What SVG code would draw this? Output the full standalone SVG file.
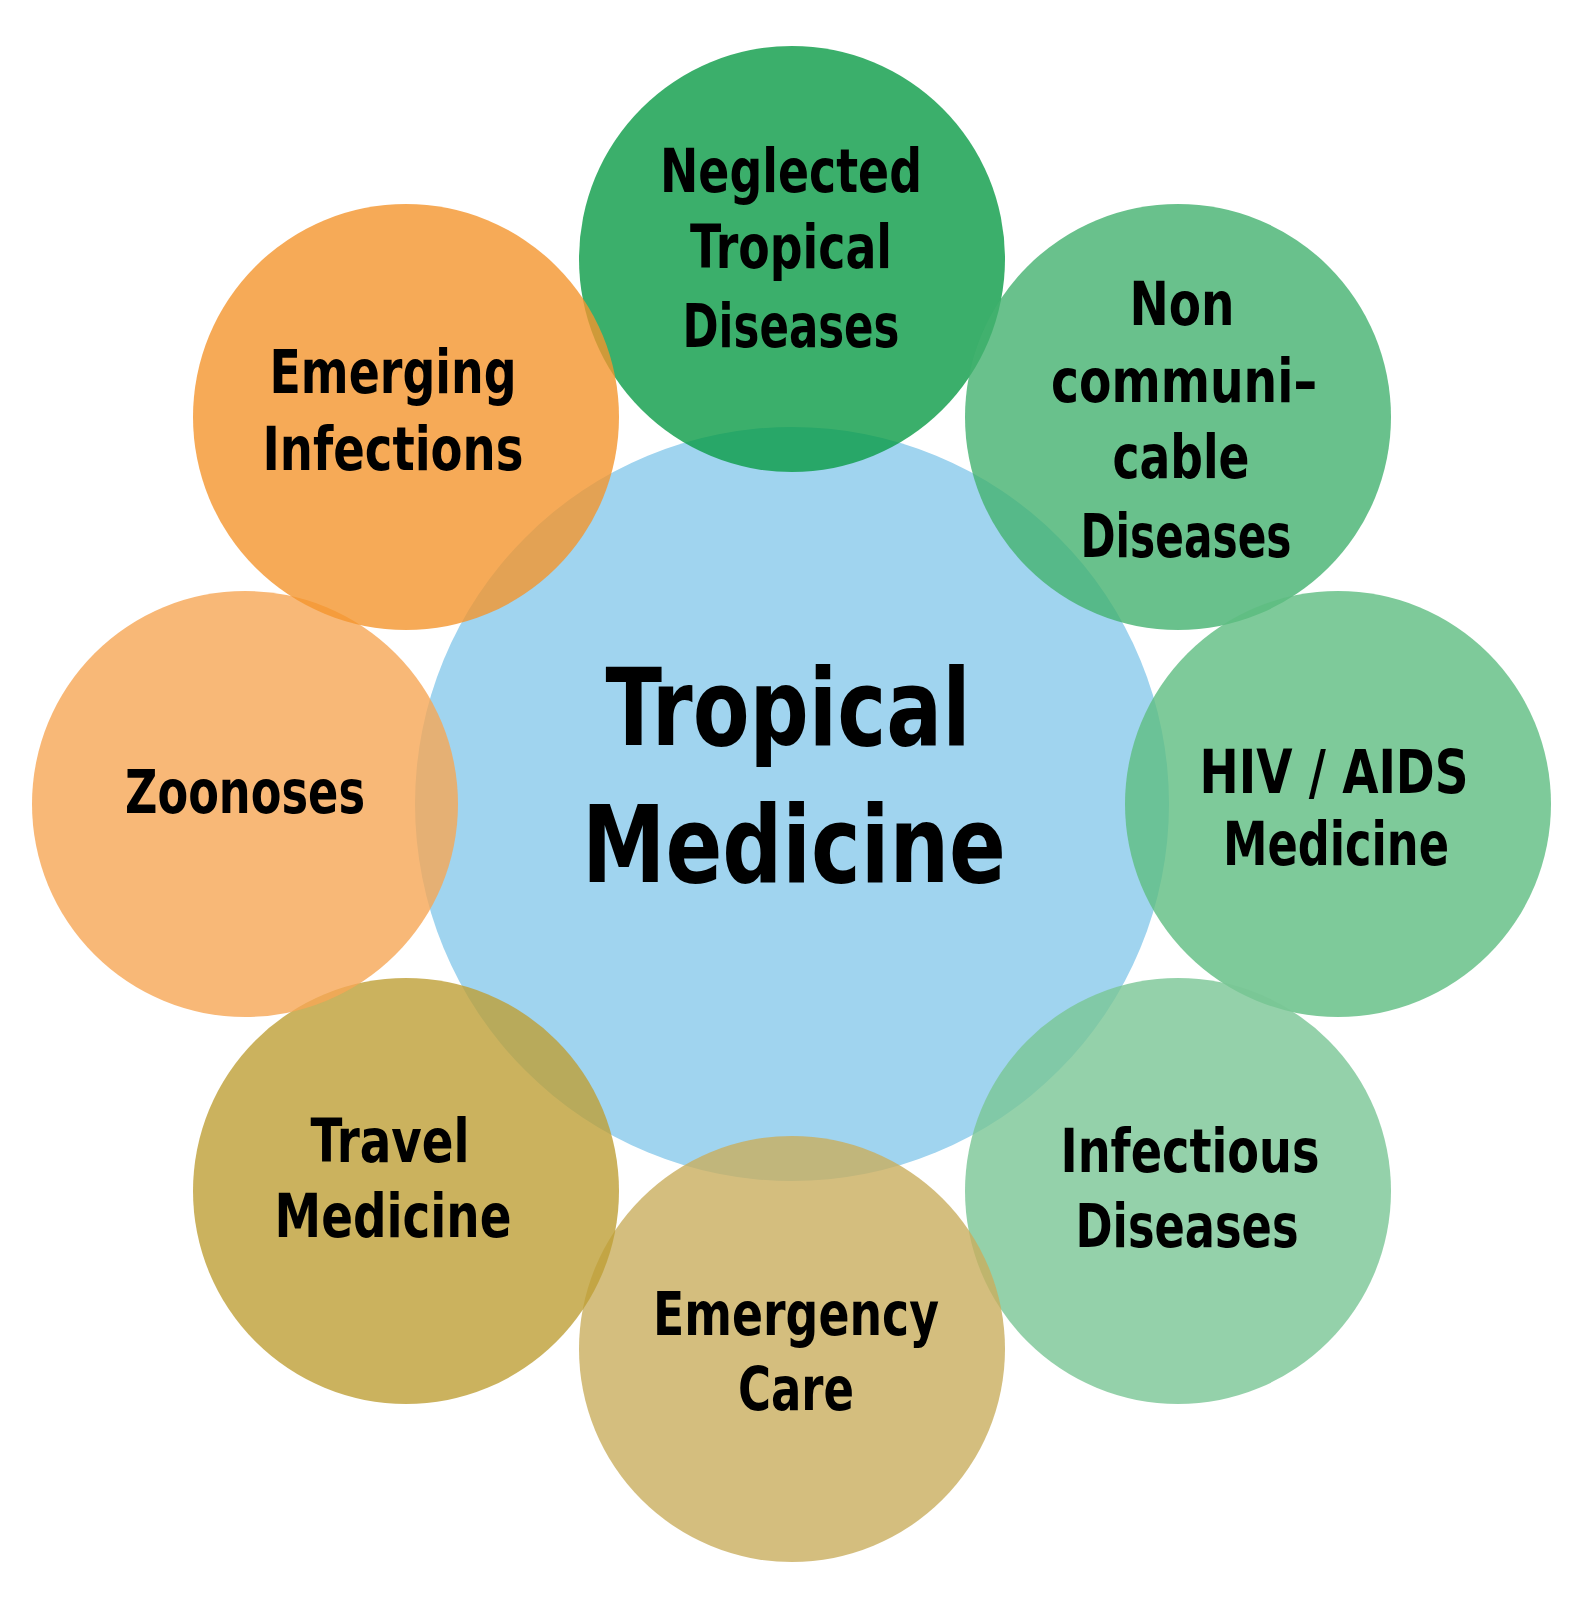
<svg xmlns="http://www.w3.org/2000/svg" width="1594" height="1603" viewBox="0 0 1594 1603">
<style>
  .sat { fill-opacity: 0.8; }
  text { font-family: "DejaVu Sans Condensed", "DejaVu Sans", sans-serif; font-weight: bold; fill: #000; text-anchor: middle; font-stretch: condensed; }
  .s { font-size: 60px; }
  .c { font-size: 107px; }
</style>
<rect width="1594" height="1603" fill="#ffffff"/>
<g id="center">
  <circle cx="792" cy="804" r="377" fill="#A0D4EF"/>
</g>
<g id="connectors"></g>
<g id="neglected">
  <circle class="sat" cx="792" cy="259" r="213" fill="#0A9B46"/>
</g>
<g id="noncommunicable">
  <circle class="sat" cx="1178" cy="417" r="213" fill="#44B26F"/>
</g>
<g id="hiv">
  <circle class="sat" cx="1338" cy="804" r="213" fill="#5EBD81"/>
</g>
<g id="infectious">
  <circle class="sat" cx="1178" cy="1191" r="213" fill="#79C695"/>
</g>
<g id="emergency">
  <circle class="sat" cx="792" cy="1349" r="213" fill="#C9AE5E"/>
</g>
<g id="travel">
  <circle class="sat" cx="406" cy="1191" r="213" fill="#BE9F36"/>
</g>
<g id="zoonoses">
  <circle class="sat" cx="245" cy="804" r="213" fill="#F6A655"/>
</g>
<g id="emerging">
  <circle class="sat" cx="406" cy="417" r="213" fill="#F4952D"/>
</g>
<g id="labels">
  <text class="c" x="788" y="745" textLength="365" lengthAdjust="spacingAndGlyphs">Tropical</text>
  <text class="c" x="794" y="882" textLength="424" lengthAdjust="spacingAndGlyphs">Medicine</text>

  <text class="s" x="791" y="192" textLength="262" lengthAdjust="spacingAndGlyphs">Neglected</text>
  <text class="s" x="791" y="268" textLength="202" lengthAdjust="spacingAndGlyphs">Tropical</text>
  <text class="s" x="791" y="347" textLength="217" lengthAdjust="spacingAndGlyphs">Diseases</text>

  <text class="s" x="1182" y="325" textLength="105" lengthAdjust="spacingAndGlyphs">Non</text>
  <text class="s" x="1184" y="402" textLength="266" lengthAdjust="spacingAndGlyphs">communi–</text>
  <text class="s" x="1181" y="478" textLength="137" lengthAdjust="spacingAndGlyphs">cable</text>
  <text class="s" x="1186" y="557" textLength="211" lengthAdjust="spacingAndGlyphs">Diseases</text>

  <text class="s" x="1334" y="793" textLength="269" lengthAdjust="spacingAndGlyphs">HIV / AIDS</text>
  <text class="s" x="1336" y="865" textLength="226" lengthAdjust="spacingAndGlyphs">Medicine</text>

  <text class="s" x="1190" y="1172" textLength="259" lengthAdjust="spacingAndGlyphs">Infectious</text>
  <text class="s" x="1187" y="1247" textLength="223" lengthAdjust="spacingAndGlyphs">Diseases</text>

  <text class="s" x="796" y="1335" textLength="286" lengthAdjust="spacingAndGlyphs">Emergency</text>
  <text class="s" x="796" y="1410" textLength="116" lengthAdjust="spacingAndGlyphs">Care</text>

  <text class="s" x="390" y="1162" textLength="159" lengthAdjust="spacingAndGlyphs">Travel</text>
  <text class="s" x="393" y="1237" textLength="237" lengthAdjust="spacingAndGlyphs">Medicine</text>

  <text class="s" x="245" y="813" textLength="240" lengthAdjust="spacingAndGlyphs">Zoonoses</text>

  <text class="s" x="393" y="393" textLength="247" lengthAdjust="spacingAndGlyphs">Emerging</text>
  <text class="s" x="393" y="470" textLength="261" lengthAdjust="spacingAndGlyphs">Infections</text>
</g>
</svg>
